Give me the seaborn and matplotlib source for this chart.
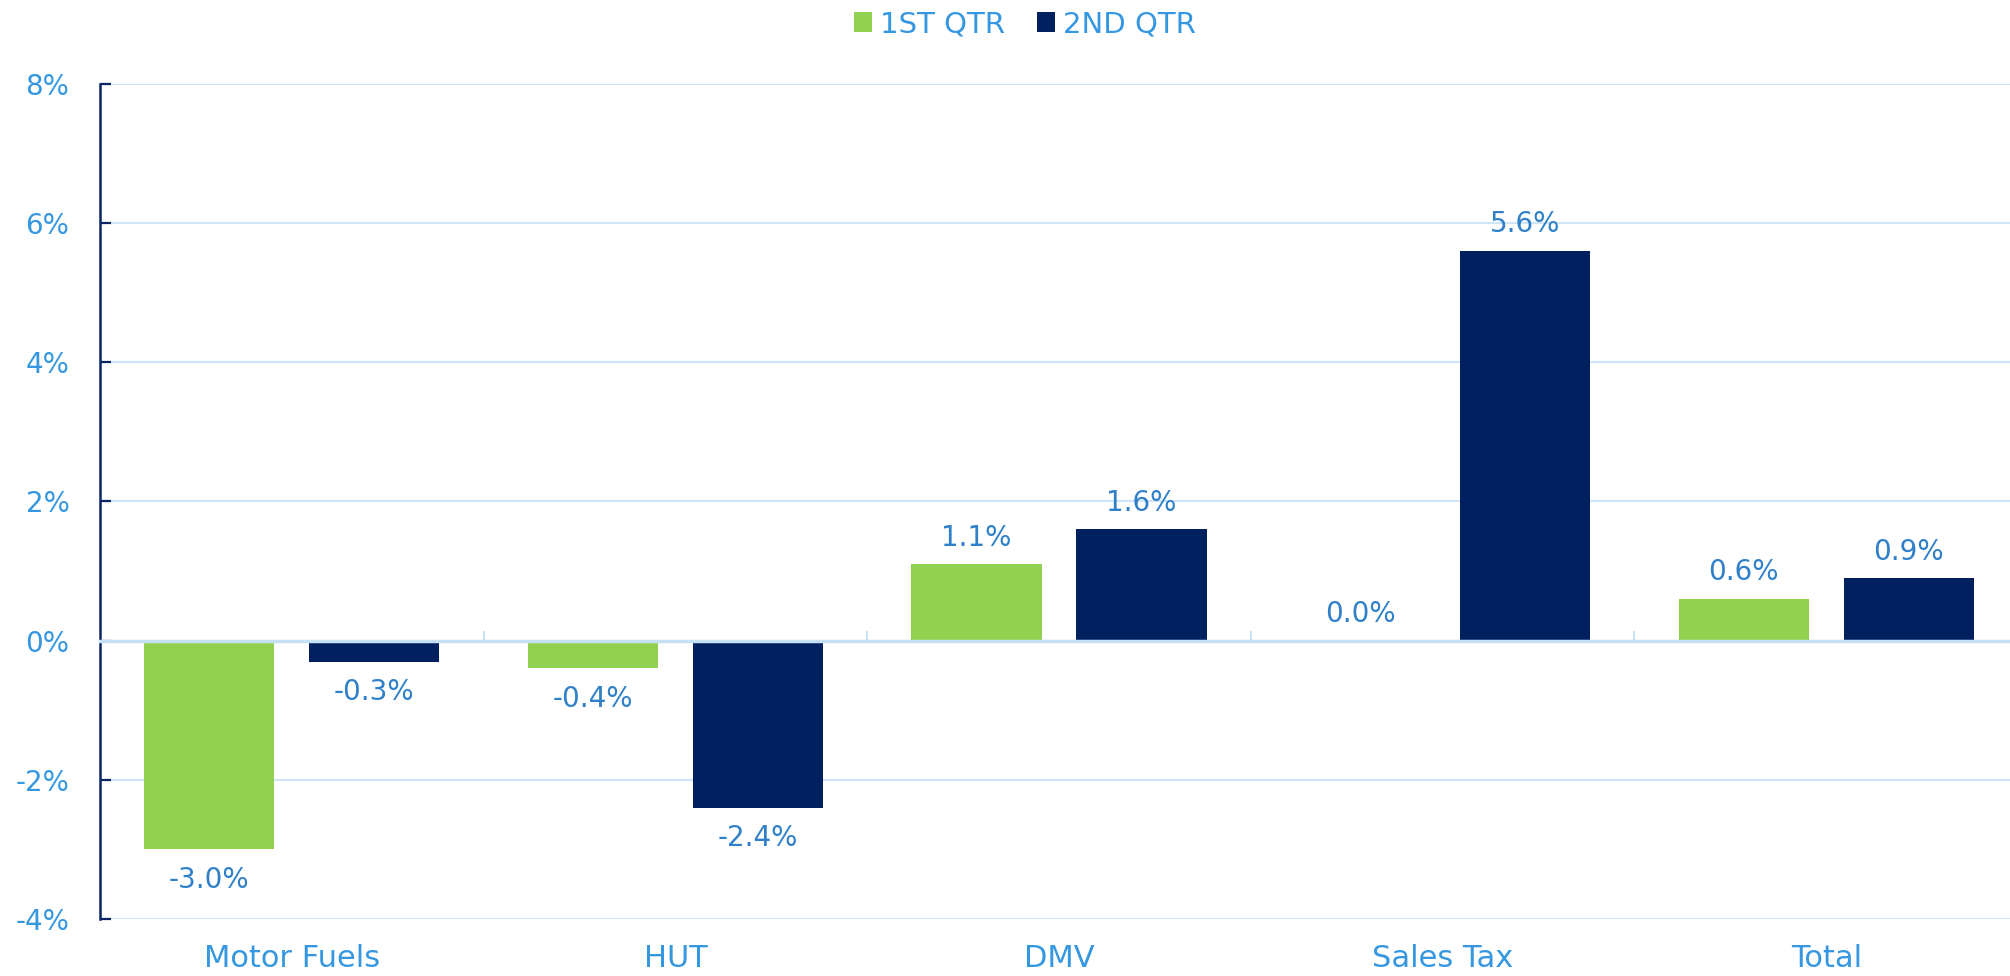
import matplotlib
matplotlib.use("Agg")
import matplotlib.pyplot as plt
from matplotlib.ticker import FuncFormatter
import seaborn as sns
import pandas as pd

# Quarter-over-quarter change by revenue source (percent)
categories = ["Motor Fuels", "HUT", "DMV", "Sales Tax", "Total"]
quarters = ["1ST QTR", "2ND QTR"]
q1_values = [-3.0, -0.4, 1.1, 0.0, 0.6]
q2_values = [-0.3, -2.4, 1.6, 5.6, 0.9]
y_ticks = [-4, -2, 0, 2, 4, 6, 8]

GREEN = "#92d050"
NAVY = "#002060"
TICK_BLUE = "#3597e0"
LABEL_BLUE = "#2f80c8"
GRID_BLUE = "#cfe5f7"
ZERO_BLUE = "#c6e0f5"

df = pd.DataFrame({
    "category": categories * 2,
    "quarter": [quarters[0]] * len(categories) + [quarters[1]] * len(categories),
    "value": q1_values + q2_values,
})

sns.set_style("white")
plt.rcParams["font.family"] = ["DejaVu Sans"]

fig = plt.figure(figsize=(20.1, 9.76), dpi=100)
ax = fig.add_axes([100 / 2010, 0.0584, (2018 - 100) / 2010, 0.914 - 0.0584])

sns.barplot(
    data=df, x="category", y="value", hue="quarter",
    order=categories, hue_order=quarters,
    palette=[GREEN, NAVY], saturation=1, width=0.86, gap=0.21,
    linewidth=0, ax=ax,
)

handles, labels = ax.get_legend_handles_labels()
if ax.get_legend() is not None:
    ax.get_legend().remove()

ax.set_xlim(-0.5, len(categories) - 0.5)
ax.set_ylim(y_ticks[0], y_ticks[-1])
ax.set_xlabel("")
ax.set_ylabel("")

# Y axis: navy spine, inward ticks, light blue gridlines
ax.set_yticks(y_ticks)
ax.yaxis.set_major_formatter(FuncFormatter(lambda v, _: f"{v:.0f}%"))
ax.tick_params(axis="y", left=True, direction="in", length=8, width=1.6,
               color="#0b2463", labelcolor=TICK_BLUE, labelsize=20, pad=22)
ax.spines["left"].set_color("#0b2463")
ax.spines["left"].set_linewidth(1.8)
ax.yaxis.grid(True, color=GRID_BLUE, linewidth=1.5)
ax.set_axisbelow(True)
for s in ("top", "right"):
    ax.spines[s].set_visible(False)

# X axis line at zero with small category separators
ax.spines["bottom"].set_position(("data", 0))
ax.spines["bottom"].set_color(ZERO_BLUE)
ax.spines["bottom"].set_linewidth(2.5)
ax.set_xticks([i + 0.5 for i in range(len(categories) - 1)])
ax.set_xticklabels([])
ax.tick_params(axis="x", bottom=True, direction="in", length=7, width=1.4,
               color=ZERO_BLUE)

# Category names along the bottom edge
sec = ax.secondary_xaxis("bottom")
sec.set_xticks(range(len(categories)), labels=categories)
sec.spines["bottom"].set_visible(False)
sec.tick_params(length=0, pad=18, labelsize=22, labelcolor=TICK_BLUE)

# Value labels
for container, values in zip(ax.containers, [q1_values, q2_values]):
    for bar, v in zip(container, values):
        xc = bar.get_x() + bar.get_width() / 2
        above = v >= 0
        ax.annotate(f"{v:.1f}%", xy=(xc, v), xytext=(0, 9 if above else -12),
                    textcoords="offset points", ha="center",
                    va="bottom" if above else "top",
                    fontsize=20, color=LABEL_BLUE)

fig.legend(handles, labels, loc="center", bbox_to_anchor=(0.510, 0.975),
           ncol=2, frameon=False, fontsize=21, labelcolor=TICK_BLUE,
           handlelength=0.62, handleheight=0.65, handletextpad=0.27,
           columnspacing=1.1)

fig.savefig("out.png", dpi=100, facecolor="white")
